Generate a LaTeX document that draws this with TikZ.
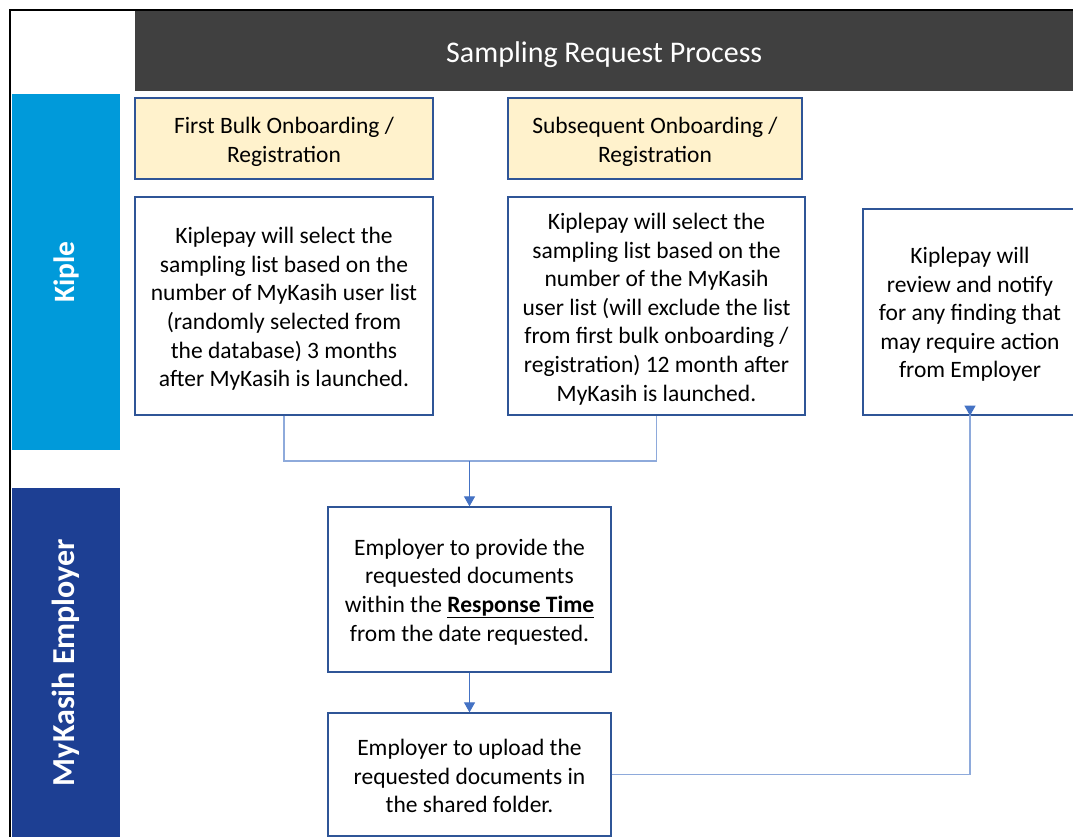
\documentclass[tikz,border=0pt]{standalone}
\usepackage{fontspec}
\setmainfont{Carlito}
\usetikzlibrary{arrows.meta}
\definecolor{hdr}{HTML}{404040}
\definecolor{kiple}{HTML}{009ADA}
\definecolor{mykasih}{HTML}{1D3F93}
\definecolor{boxline}{HTML}{2F5597}
\definecolor{yel}{HTML}{FFF2CC}
\definecolor{conline}{HTML}{8EAADB}
\definecolor{arrblue}{HTML}{4472C4}
\tikzset{
  body/.style={font=\fontsize{23.5}{28.6}\selectfont, align=center, text=black, inner sep=0pt},
  procbox/.style={draw=boxline, line width=1.3pt, fill=white, inner sep=0pt},
  titlebox/.style={draw=boxline, line width=1.3pt, fill=yel, inner sep=0pt},
  lane/.style={inner sep=0pt, text=white, rotate=90},
  conn/.style={draw=conline, line width=1.1pt},
  arr/.style={draw=arrblue, line width=1.1pt, -{Triangle[width=11pt,length=10pt]}},
}
\begin{document}
\begin{tikzpicture}[x=1pt,y=-1pt]
\useasboundingbox (0,0) rectangle (1073,837);
\clip (0,0) rectangle (1073,837);
\fill[white] (0,0) rectangle (1073,837);
% frame
\draw[black, line width=2pt] (10,837) -- (10,10) -- (1075,10);
% header
\node[fill=hdr, minimum width=938pt, minimum height=80pt, inner sep=0pt, anchor=north west] (hdr) at (135,11) {};
\node[text=white, font=\fontsize{30}{34}\selectfont, inner sep=0pt] (hdrt) at ([yshift=-3pt]hdr.center) {Sampling Request Process};
% lanes
\node[fill=kiple, minimum width=356pt, minimum height=108pt, lane, font=\fontsize{29.5}{32}\selectfont\bfseries] (lk) at (66,272) {Kiple};
\node[fill=mykasih, minimum width=349pt, minimum height=108pt, lane, font=\fontsize{32}{36}\selectfont\bfseries] (lm) at (66,662.5) {MyKasih Employer};
% title boxes
\node[titlebox, minimum width=298pt, minimum height=81pt] (t1) at (284,138.5) {};
\node[body] (t1t) at ([yshift=-3.5pt]t1.center) {First Bulk Onboarding /\\Registration};
\node[titlebox, minimum width=294pt, minimum height=81pt] (t2) at (655,138.5) {};
\node[body] (t2t) at ([yshift=-3.5pt]t2.center) {Subsequent Onboarding /\\Registration};
% process boxes
\node[procbox, minimum width=298pt, minimum height=218pt] (b3) at (284,306) {};
\node[body] (b3t) at ([yshift=-3pt]b3.center) {Kiplepay will select the\\sampling list based on the\\number of MyKasih user list\\(randomly selected from\\the database) 3 months\\after MyKasih is launched.};
\node[procbox, minimum width=297pt, minimum height=218pt] (b4) at (656.5,306) {};
\node[body] (b4t) at ([yshift=-3pt]b4.center) {Kiplepay will select the\\sampling list based on the\\number of the MyKasih\\user list (will exclude the list\\from first bulk onboarding /\\registration) 12 month after\\MyKasih is launched.};
\node[procbox, minimum width=214pt, minimum height=206pt] (b5) at (970,312) {};
\node[body] (b5t) at ([yshift=-2.5pt]b5.center) {Kiplepay will\\review and notify\\for any finding that\\may require action\\from Employer};
\node[procbox, minimum width=283pt, minimum height=165pt] (b6) at (469.5,589.5) {};
\node[body] (b6t) at ([yshift=-2.5pt]b6.center) {Employer to provide the\\requested documents\\within the \textbf{\underline{Response Time}}\\from the date requested.};
\node[procbox, minimum width=283pt, minimum height=123pt] (b7) at (469.5,774.5) {};
\node[body] (b7t) at ([yshift=-1.5pt]b7.center) {Employer to upload the\\requested documents in\\the shared folder.};
% connectors
\coordinate (m) at (469.5,461);
\draw[conn] (b3.south) |- (m) -| (b4.south);
\draw[arr] (m) -- (b6.north);
\draw[arr] (b6.south) -- (b7.north);
\draw[conn] (b7.east) -| ([yshift=10pt]b5.south);
\draw[arr] ([yshift=10pt]b5.south) -- (b5.south);
\end{tikzpicture}
\end{document}
